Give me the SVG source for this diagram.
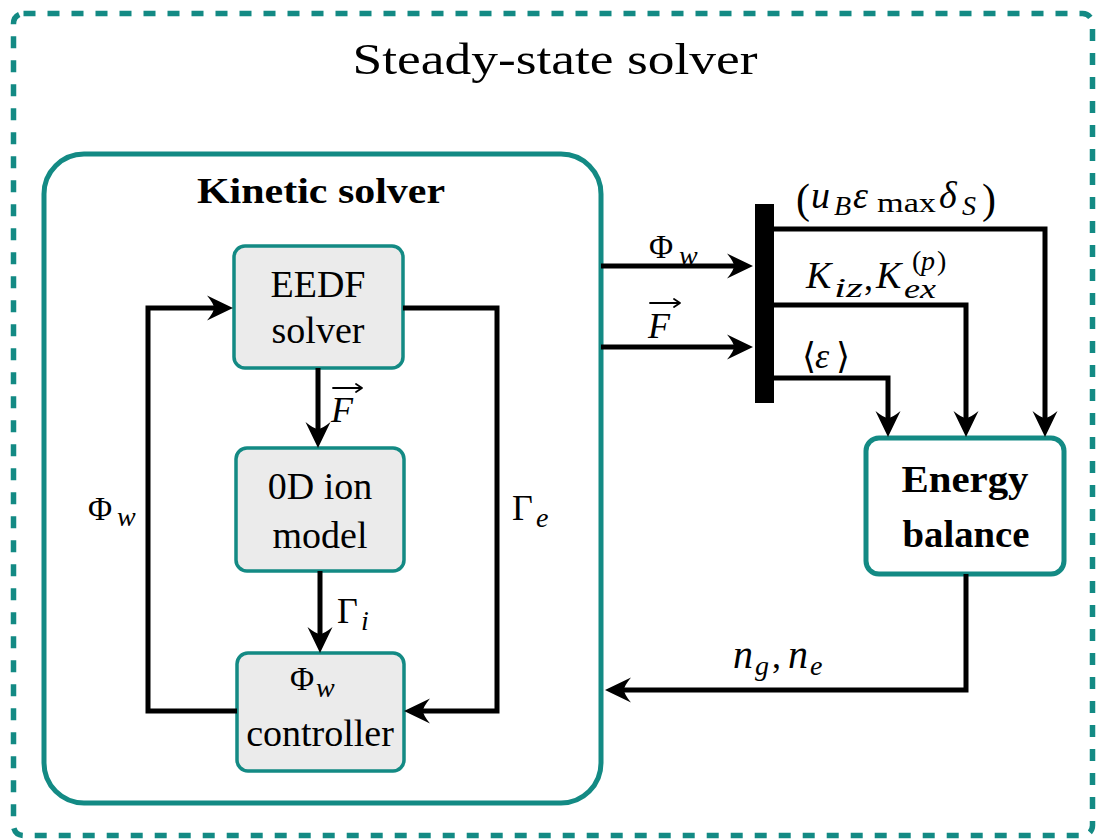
<svg xmlns="http://www.w3.org/2000/svg" width="1097" height="839" viewBox="0 0 1097 839">
  <defs>
    <style>
      .frame { fill: none; stroke: #138a84; stroke-width: 5; }
      .outer { fill: none; stroke: #138a84; stroke-width: 5.5; stroke-dasharray: 12 12; }
      .inner { fill: #ebebeb; stroke: #138a84; stroke-width: 3.5; }
      .energy { fill: #ffffff; stroke: #138a84; stroke-width: 5; }
      .wire { fill: none; stroke: #000; stroke-width: 5; stroke-linejoin: miter; stroke-linecap: butt; }
      .vec { fill: none; stroke: #000; stroke-width: 1.8; stroke-linecap: round; stroke-linejoin: round; }
      .txt { font-family: "Liberation Serif", "Times New Roman", serif; fill: #000; }
      .bold { font-weight: bold; }
      .m { font-family: "Liberation Serif", "DejaVu Serif", serif; fill: #000; font-size: 36px; }
      .it { font-style: italic; }
      .sub { font-size: 28px; }
      .mid { text-anchor: middle; }
    </style>
    <marker id="head" viewBox="-17 -13 28 26" refX="0" refY="0" markerWidth="28" markerHeight="26" markerUnits="userSpaceOnUse" orient="auto">
      <path d="M10,0 L-16,-12.5 Q-9,-4 -9,0 Q-9,4 -16,12.5 Z" fill="#000"/>
    </marker>
  </defs>

  <!-- outer frame -->
  <g id="steady-state">
    <rect class="outer" x="13.5" y="13.5" width="1079" height="822" rx="10"/>
    <text class="txt mid" x="555" y="74" font-size="44" textLength="405" lengthAdjust="spacingAndGlyphs">Steady-state solver</text>
  </g>

  <!-- kinetic solver container -->
  <g id="kinetic">
    <rect class="frame" x="44" y="154" width="557" height="649" rx="40"/>
    <text class="txt bold mid" x="321" y="203" font-size="36" textLength="248" lengthAdjust="spacingAndGlyphs">Kinetic solver</text>
  </g>

  <g id="eedf">
    <rect class="inner" x="234" y="246" width="169" height="122" rx="11"/>
    <text class="txt mid" x="318" y="297" font-size="38">EEDF</text>
    <text class="txt mid" x="318" y="343" font-size="38">solver</text>
  </g>

  <g id="ion-model">
    <rect class="inner" x="236" y="448" width="168" height="123" rx="11"/>
    <text class="txt mid" x="320" y="499" font-size="38">0D ion</text>
    <text class="txt mid" x="320" y="548" font-size="38">model</text>
  </g>

  <g id="controller">
    <rect class="inner" x="237" y="653" width="167" height="118" rx="11"/>
    <text class="m"><tspan x="290" y="690" font-size="33">Φ</tspan><tspan class="it sub" x="316" y="697">w</tspan></text>
    <text class="txt mid" x="320" y="746" font-size="38">controller</text>
  </g>

  <g id="energy-balance">
    <rect class="energy" x="866" y="438" width="198" height="136" rx="13"/>
    <text class="txt bold mid" x="965" y="492" font-size="38" textLength="127" lengthAdjust="spacingAndGlyphs">Energy</text>
    <text class="txt bold mid" x="966" y="547" font-size="38" textLength="127" lengthAdjust="spacingAndGlyphs">balance</text>
  </g>

  <g id="splitter">
    <rect x="755" y="204" width="19" height="199" fill="#000"/>
  </g>

  <!-- connectors -->
  <g id="connectors">
    <path class="wire" d="M318,368 V438" marker-end="url(#head)"/>
    <path class="wire" d="M320,571 V643" marker-end="url(#head)"/>
    <path class="wire" d="M237,711 H148 V308 H223" marker-end="url(#head)"/>
    <path class="wire" d="M403,308 H497 V711 H414" marker-end="url(#head)"/>
    <path class="wire" d="M601,266 H743" marker-end="url(#head)"/>
    <path class="wire" d="M601,347 H743" marker-end="url(#head)"/>
    <path class="wire" d="M774,229 H1045 V427" marker-end="url(#head)"/>
    <path class="wire" d="M774,305 H966 V427" marker-end="url(#head)"/>
    <path class="wire" d="M774,378 H888 V427" marker-end="url(#head)"/>
    <path class="wire" d="M966,574 V690 H615" marker-end="url(#head)"/>
  </g>

  <!-- connector labels -->
  <g id="labels">
    <!-- F between EEDF and ion model -->
    <text class="m it" x="331" y="422">F</text>
    <path class="vec" d="M333,388 H362 M356,384 L362,388 L356,392"/>

    <!-- Gamma_i -->
    <text class="m"><tspan x="337" y="623">Γ</tspan><tspan class="it sub" x="361" y="630">i</tspan></text>

    <!-- Phi_w on left loop -->
    <text class="m"><tspan x="88" y="520" font-size="33">Φ</tspan><tspan class="it sub" x="117" y="526">w</tspan></text>

    <!-- Gamma_e on right loop -->
    <text class="m"><tspan x="512" y="520">Γ</tspan><tspan class="it sub" x="536" y="527">e</tspan></text>

    <!-- Phi_w into splitter -->
    <text class="m"><tspan x="649" y="258" font-size="33">Φ</tspan><tspan class="it sub" x="679" y="265">w</tspan></text>

    <!-- F into splitter -->
    <text class="m it" x="648" y="338">F</text>
    <path class="vec" d="M650,303 H680 M674,299 L680,303 L674,307"/>

    <!-- (u_B eps_max delta_S) -->
    <text class="m"><tspan x="796" y="213" font-size="42">(</tspan><tspan class="it" x="811" y="208" font-size="38">u</tspan><tspan class="it sub" x="834" y="215">B</tspan><tspan class="it" x="853" y="208" font-size="38">ε</tspan><tspan class="sub" x="877" y="212" textLength="59" lengthAdjust="spacingAndGlyphs">max</tspan><tspan class="it" x="939" y="208" font-size="38">δ</tspan><tspan class="it sub" x="962" y="215">S</tspan><tspan x="982" y="213" font-size="42">)</tspan></text>

    <!-- K_iz, K_ex^(p) -->
    <text class="m"><tspan class="it" x="806" y="288" font-size="38">K</tspan><tspan class="it sub" x="834" y="297" textLength="29" lengthAdjust="spacingAndGlyphs">iz</tspan><tspan x="864" y="290">,</tspan><tspan class="it" x="876" y="288" font-size="38">K</tspan><tspan class="it sub" x="904" y="298" textLength="32" lengthAdjust="spacingAndGlyphs">ex</tspan><tspan class="sub" x="912" y="270">(</tspan><tspan class="it sub" x="921" y="270">p</tspan><tspan class="sub" x="937" y="270">)</tspan></text>

    <!-- mean energy -->
    <text class="m"><tspan x="802" y="368">⟨</tspan><tspan class="it" x="815" y="368">ε</tspan><tspan x="836" y="368">⟩</tspan></text>

    <!-- n_g, n_e -->
    <text class="m"><tspan class="it" x="733" y="668" font-size="40">n</tspan><tspan class="it sub" x="755" y="675">g</tspan><tspan x="772" y="668">,</tspan><tspan class="it" x="788" y="668" font-size="40">n</tspan><tspan class="it sub" x="810" y="675">e</tspan></text>
  </g>
</svg>
